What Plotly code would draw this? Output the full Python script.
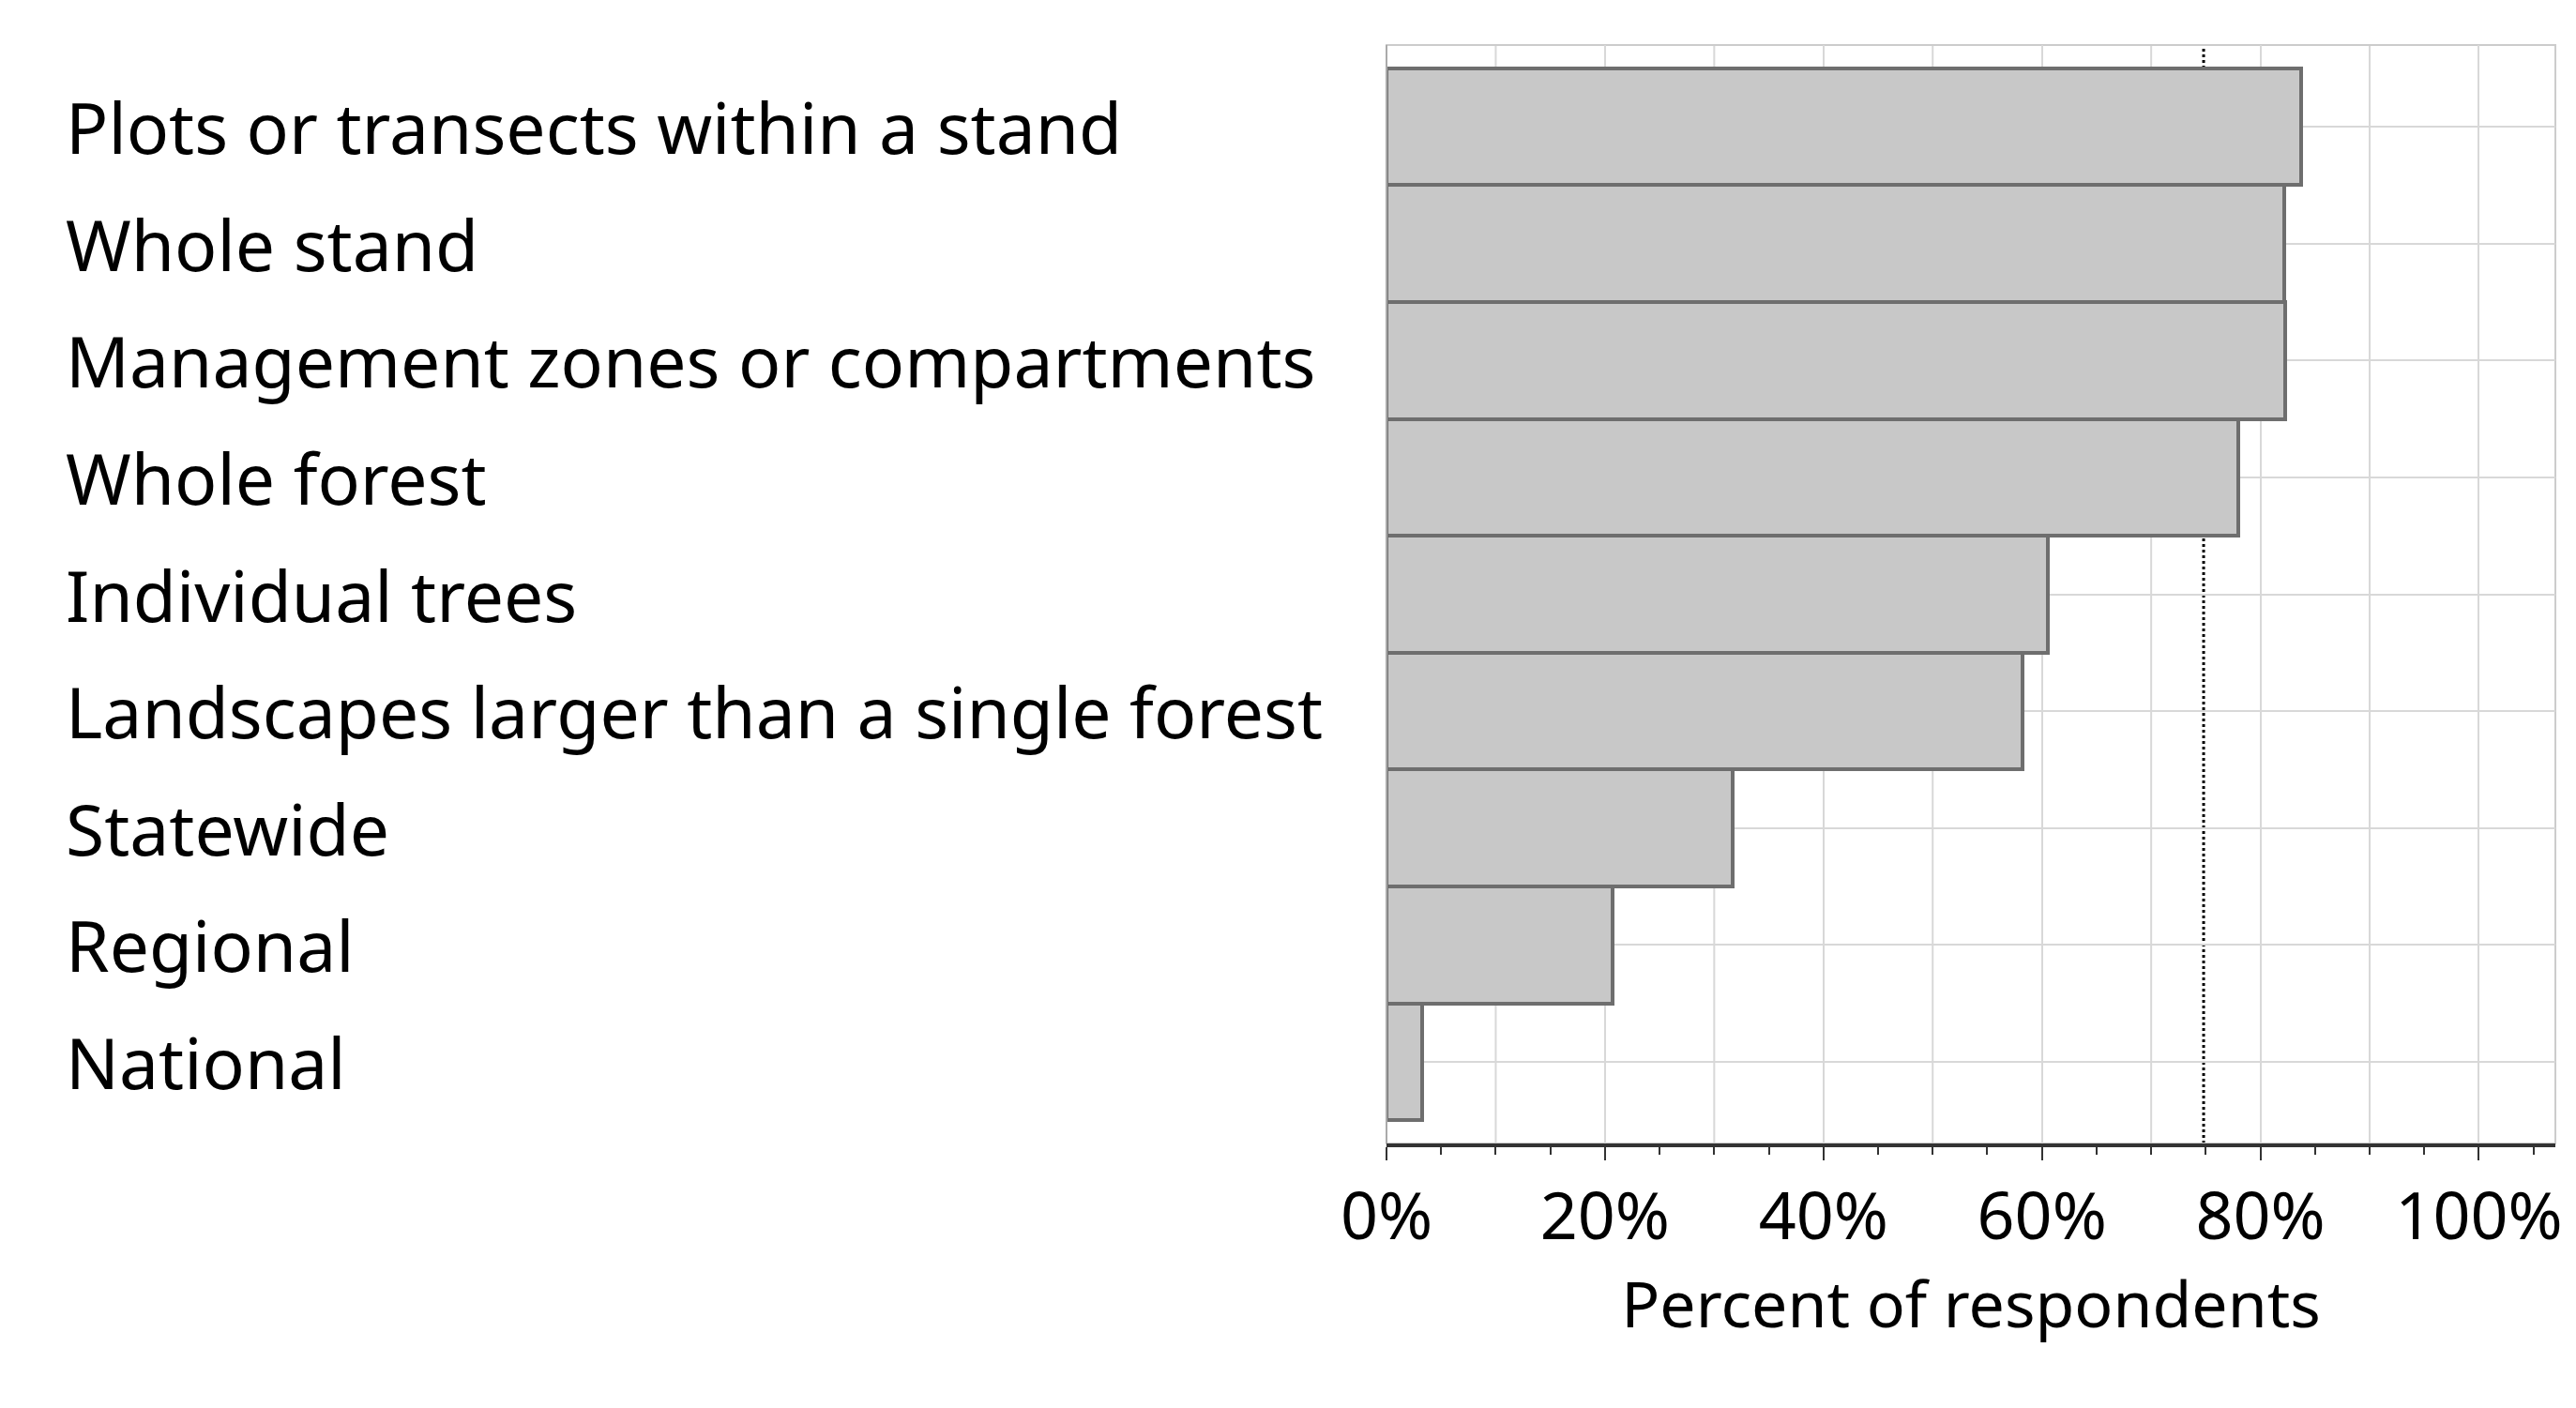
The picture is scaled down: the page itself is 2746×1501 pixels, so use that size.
import plotly.graph_objects as go

categories = ["Plots or transects within a stand", "Whole stand", "Management zones or compartments",
              "Whole forest", "Individual trees", "Landscapes larger than a single forest",
              "Statewide", "Regional", "National"]
values = [83.7, 82.2, 82.3, 78.0, 60.5, 58.2, 31.7, 20.7, 3.3]
ref_line = 74.8
tick_vals = [0, 20, 40, 60, 80, 100]
tick_text = ["0%", "20%", "40%", "60%", "80%", "100%"]

W, H = 2746, 1501
FONT = "Noto Sans"
fig = go.Figure(go.Bar(y=categories, x=values, orientation="h",
                       marker=dict(color="#c8c8c8", line=dict(color="#6e6e6e", width=4))))
fig.add_shape(type="line", x0=ref_line, x1=ref_line, y0=0, y1=1, yref="paper",
              line=dict(color="black", width=3, dash="dot"), layer="below")
for v in range(10, 110, 20):
    fig.add_shape(type="line", x0=v, x1=v, y0=0, y1=1, yref="paper",
                  line=dict(color="#d8d8d8", width=2), layer="below")
for i, c in enumerate(categories):
    fig.add_annotation(text=c, x=0.0, xref="paper", xshift=-1410, y=c, yref="y",
                       xanchor="left", showarrow=False, font=dict(size=75, color="black", family=FONT))

fig.update_layout(
    width=W, height=H, margin=dict(l=1470, r=30, t=40, b=290),
    plot_bgcolor="white", paper_bgcolor="white", showlegend=False, bargap=0,
    font=dict(family=FONT, color="black", size=70),
    xaxis=dict(range=[0, 107], tickvals=tick_vals, ticktext=tick_text, showgrid=True,
               gridcolor="#d8d8d8", gridwidth=2, showline=True, linecolor="#333", linewidth=4,
               ticks="outside", ticklen=14, tickwidth=2, tickcolor="#333",
               minor=dict(dtick=5, ticks="outside", ticklen=8, tickcolor="#333", showgrid=False),
               zeroline=False, layer="below traces",
               title=dict(text="Percent of respondents", font=dict(size=68), standoff=25)),
    yaxis=dict(categoryorder="array", categoryarray=categories[::-1], range=[-0.7, 8.7],
               showticklabels=False, showgrid=True, gridcolor="#d8d8d8", gridwidth=2,
               showline=False),
)
fig.add_shape(type="rect", x0=0, x1=1, y0=0, y1=1, xref="paper", yref="paper",
              line=dict(color="#cccccc", width=2), layer="below")
fig.add_shape(type="line", x0=0, x1=0, y0=0, y1=1, xref="paper", yref="paper",
              line=dict(color="#aaaaaa", width=2))
fig.write_html("out.html")
